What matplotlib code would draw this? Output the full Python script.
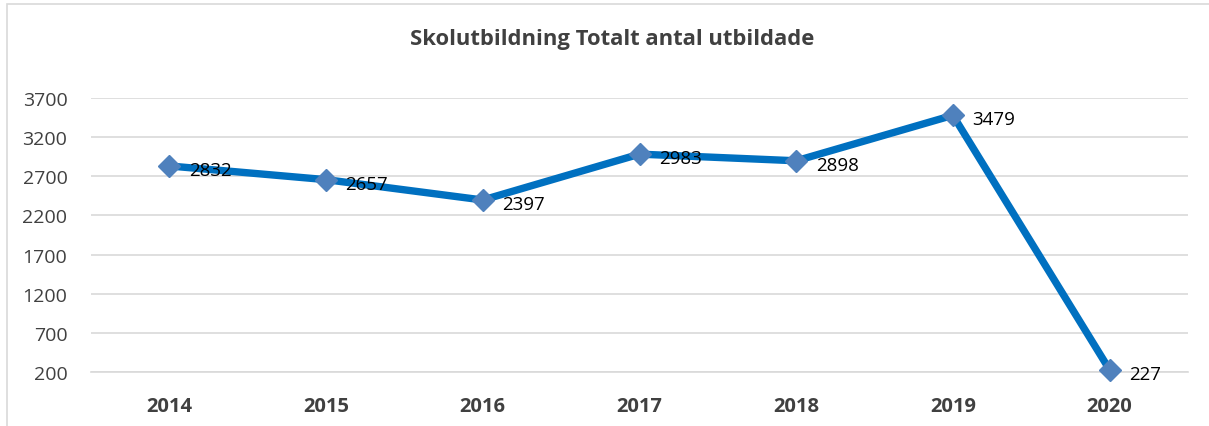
import matplotlib
matplotlib.use("Agg")
import matplotlib.pyplot as plt
from matplotlib.patches import Rectangle

years = ["2014", "2015", "2016", "2017", "2018", "2019", "2020"]
values = [2832, 2657, 2397, 2983, 2898, 3479, 227]
yticks = [200, 700, 1200, 1700, 2200, 2700, 3200, 3700]
title = "Skolutbildning Totalt antal utbildade"

plt.rcParams['font.family'] = ['Open Sans', 'DejaVu Sans']

fig = plt.figure(figsize=(12.09, 4.27), dpi=100)
fig.patches.append(Rectangle((7/1209, -0.1), 1.2, 1 - 5/427 + 0.1, transform=fig.transFigure,
                             fill=False, edgecolor='#d9d9d9', linewidth=1.2))
ax = fig.add_axes([91/1209, 1 - 373/427, (1188 - 91)/1209, (373 - 99)/427])

x = list(range(len(years)))
ax.plot(x, values, color='#0070C0', linewidth=5.3, zorder=2, clip_on=False)
ax.plot(x, values, linestyle='none', marker='D', markersize=11.5, color='#4F81BD', zorder=3,
        clip_on=False)
for xi, v in zip(x, values):
    ax.annotate(str(v), (xi, v), xytext=(14, -3), textcoords='offset points',
                ha='left', va='center', fontsize=13.5, color='black', zorder=4)

ax.set_xlim(-0.5, len(years) - 0.5)
ax.set_ylim(200, 3700)
ax.set_yticks(yticks)
ax.set_yticklabels([str(t) for t in yticks], fontsize=14, color='#404040')
ax.set_xticks(x)
ax.set_xticklabels(years, fontsize=14.5, fontweight='bold', color='#404040')
ax.tick_params(axis='both', length=0)
ax.tick_params(axis='y', pad=17)
ax.tick_params(axis='x', pad=17)
ax.grid(axis='y', color='#d9d9d9', linewidth=1.2, zorder=0)
for s in ['top', 'right', 'left']:
    ax.spines[s].set_visible(False)
ax.spines['bottom'].set_color('#d9d9d9')
ax.spines['bottom'].set_linewidth(1.2)
ax.set_axisbelow(True)

fig.text(612/1209, 1 - 40/427, title, ha='center', va='center', fontsize=15.8,
         fontweight='bold', color='#404040')

fig.savefig("out.png", dpi=100)
